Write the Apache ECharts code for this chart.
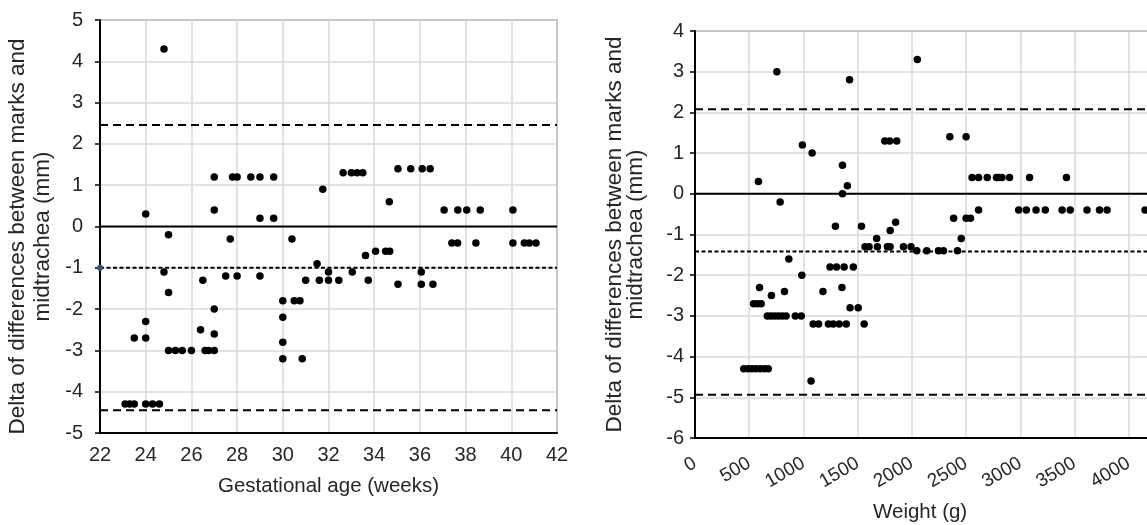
<!DOCTYPE html>
<html>
<head>
<meta charset="utf-8">
<script src="https://cdn.jsdelivr.net/npm/echarts@6/dist/echarts.min.js"></script>
<style>
html,body{margin:0;padding:0;background:#fff;}
#c{width:1147px;height:525px;}
</style>
</head>
<body>
<div id="c"></div>
<script>
// ---- Left panel: gestational age (weeks) vs delta (mm)
const gaWeeks = [23.1,23.3,23.5,24.0,24.3,24.6, 23.5,24.0,24.0,24.0, 24.8,24.8,25.0,25.0, 25.0,25.3,25.6,26.0,
  26.4,26.5,26.6,26.75,27.0,27.0,27.0,27.0,27.0, 27.5,27.7,27.8,28.0,28.0, 28.6,29.0,29.0,29.0,29.6,29.6,
  30.0,30.0,30.0,30.0,30.4,30.5,30.75,30.85, 31.0,31.5,31.6,31.75,32.0,32.0,32.45,
  32.64,33.0,33.25,33.5,33.04,33.62,33.74, 34.06,34.5,34.68,34.66,
  35.04,35.6,36.1,36.45,35.04,36.06,36.06,36.57,
  37.06,37.4,37.65,37.66,38.05,38.45,38.64,40.07,40.07,40.57,40.79,41.08];
const gaDelta = [-4.3,-4.3,-4.3,-4.3,-4.3,-4.3, -2.7,-2.7,-2.3,0.3, 4.3,-1.1,-0.2,-1.6, -3.0,-3.0,-3.0,-3.0,
  -2.5,-1.3,-3.0,-3.0,-3.0,-2.6,-2.0,0.4,1.2, -1.2,-0.3,1.2,1.2,-1.2, 1.2,1.2,0.2,-1.2,1.2,0.2,
  -1.8,-2.2,-2.8,-3.2,-0.3,-1.8,-1.8,-3.2, -1.3,-0.9,-1.3,0.9,-1.1,-1.3,-1.3,
  1.3,1.3,1.3,1.3,-1.1,-0.7,-1.3, -0.6,-0.6,-0.6,0.6,
  1.4,1.4,1.4,1.4,-1.4,-1.1,-1.4,-1.4,
  0.4,-0.4,-0.4,0.4,0.4,-0.4,0.4,0.4,-0.4,-0.4,-0.4,-0.4];
const gaLimits = {upper: 2.46, mean: -1.0, lower: -4.45};
const gaRange = [22, 42];

// ---- Right panel: weight (g) vs delta (mm)
const wGrams = [755,1425,2050,585,785,990,1080,1360,1405,1360,1750,1795,1860,
  1295,1535,1675,1800,1850,
  1568,1605,1682,1774,1799,1922,1992,
  2045,2137,2245,2291,2420,
  865,985,595,540,575,610,705,825,
  667,700,735,770,805,840,925,980,
  450,490,525,560,600,640,675,1070,
  1245,1305,1375,1460,1180,1355,1430,1505,
  1090,1140,1230,1275,1330,1395,1560,
  2350,2500,
  2555,2615,2695,2780,2800,2830,2900,3085,3425,
  2385,2500,2540,2455,
  2615,2985,3055,3145,3230,3385,3460,3615,3730,3800,4150];
const wDelta = [3.0,2.8,3.3,0.3,-0.2,1.2,1.0,0.7,0.2,0.0,1.3,1.3,1.3,
  -0.8,-0.8,-1.1,-0.9,-0.7,
  -1.3,-1.3,-1.3,-1.3,-1.3,-1.3,-1.3,
  -1.4,-1.4,-1.4,-1.4,-1.4,
  -1.6,-2.0,-2.3,-2.7,-2.7,-2.7,-2.5,-2.4,
  -3.0,-3.0,-3.0,-3.0,-3.0,-3.0,-3.0,-3.0,
  -4.3,-4.3,-4.3,-4.3,-4.3,-4.3,-4.3,-4.6,
  -1.8,-1.8,-1.8,-1.8,-2.4,-2.3,-2.8,-2.8,
  -3.2,-3.2,-3.2,-3.2,-3.2,-3.2,-3.2,
  1.4,1.4,
  0.4,0.4,0.4,0.4,0.4,0.4,0.4,0.4,0.4,
  -0.6,-0.6,-0.6,-1.1,
  -0.4,-0.4,-0.4,-0.4,-0.4,-0.4,-0.4,-0.4,-0.4,-0.4,-0.4];
const wLimits = {upper: 2.08, mean: -1.42, lower: -4.94};
const wRange = [0, 4500];

const yTitle = 'Delta of differences between marks and\nmidtrachea (mm)';
const FONT = 'Liberation Sans, Arial, sans-serif';
const txt = '#262626';

const pair = (xs, ys) => xs.map((x, i) => [x, ys[i]]);
const hline = (range, y) => [[range[0], y], [range[1], y]];

function lineSeries(idx, data, type, width, color) {
  return {type: 'line', xAxisIndex: idx, yAxisIndex: idx, data: data, symbol: 'none',
    silent: true, z: 3, lineStyle: {color: color || '#000', width: width, type: type}};
}
function dotSeries(idx, data) {
  return {type: 'scatter', xAxisIndex: idx, yAxisIndex: idx, data: data, symbol: 'circle',
    symbolSize: 7.5, itemStyle: {color: '#000', opacity: 1}, z: 5};
}

const axisCommon = {
  axisLine: {show: true, onZero: false, lineStyle: {color: '#000', width: 2}},
  axisTick: {show: true, inside: false, length: 5, lineStyle: {color: '#000', width: 1.5}},
  splitLine: {show: true, lineStyle: {color: '#d9d9d9', width: 1.5}},
  axisLabel: {fontFamily: FONT, fontSize: 20, color: txt},
  nameTextStyle: {fontFamily: FONT, fontSize: 20, color: txt}
};

const chart = echarts.init(document.getElementById('c'), null, {renderer: 'canvas'});
chart.setOption({
  backgroundColor: '#fff',
  animation: false,
  grid: [
    {left: 100, top: 20, width: 457, height: 413, show: true, borderColor: '#6f6f6f', borderWidth: 1.5,
      backgroundColor: 'transparent', containLabel: false, outerBoundsMode: 'none'},
    {left: 695, top: 31, width: 488, height: 407, show: true, borderColor: '#6f6f6f', borderWidth: 1.5,
      backgroundColor: 'transparent', containLabel: false, outerBoundsMode: 'none'}
  ],
  xAxis: [
    Object.assign({}, axisCommon, {gridIndex: 0, type: 'value', min: gaRange[0], max: gaRange[1], interval: 2,
      axisTick: {show: false},
      axisLabel: Object.assign({}, axisCommon.axisLabel, {margin: 12}),
      name: 'Gestational age (weeks)', nameLocation: 'middle', nameGap: 43,
      nameTextStyle: Object.assign({}, axisCommon.nameTextStyle, {fontSize: 20.5})}),
    Object.assign({}, axisCommon, {gridIndex: 1, type: 'value', min: wRange[0], max: wRange[1], interval: 500,
      axisTick: {show: false},
      axisLabel: Object.assign({}, axisCommon.axisLabel, {rotate: 30, margin: 24, fontSize: 19,
        formatter: function (v) { return String(v); }})})
  ],
  yAxis: [
    Object.assign({}, axisCommon, {gridIndex: 0, type: 'value', min: -5, max: 5, interval: 1,
      axisLabel: Object.assign({}, axisCommon.axisLabel, {margin: 17}),
      name: yTitle, nameLocation: 'middle', nameGap: 44.5, nameRotate: 90,
      nameTextStyle: Object.assign({}, axisCommon.nameTextStyle, {fontSize: 22.5, lineHeight: 25, padding: [0, 20, 0, 0]})}),
    Object.assign({}, axisCommon, {gridIndex: 1, type: 'value', min: -6, max: 4, interval: 1,
      axisLabel: Object.assign({}, axisCommon.axisLabel, {margin: 11}),
      name: yTitle, nameLocation: 'middle', nameGap: 48.5, nameRotate: 90,
      nameTextStyle: Object.assign({}, axisCommon.nameTextStyle, {fontSize: 22.5, lineHeight: 21})})
  ],
  graphic: [
    {type: 'text', left: 923 - 50, top: 502, style: {text: 'Weight (g)', font: '20.5px ' + FONT, fill: txt, width: 100, align: 'center'}}
  ],
  series: [
    lineSeries(0, hline(gaRange, 0), 'solid', 2),
    lineSeries(0, hline(gaRange, gaLimits.upper), [8, 5], 2),
    lineSeries(0, hline(gaRange, gaLimits.lower), [8, 5], 2),
    lineSeries(0, hline(gaRange, gaLimits.mean), [4, 2.5], 2),
    {type: 'scatter', xAxisIndex: 0, yAxisIndex: 0, data: [[gaRange[0], gaLimits.mean]], symbolSize: 6,
      itemStyle: {color: '#2f5597', opacity: 1}, z: 6, silent: true},
    dotSeries(0, pair(gaWeeks, gaDelta)),
    lineSeries(1, hline(wRange, 0), 'solid', 2),
    lineSeries(1, hline(wRange, wLimits.upper), [8, 5], 2),
    lineSeries(1, hline(wRange, wLimits.lower), [8, 5], 2),
    lineSeries(1, hline(wRange, wLimits.mean), [4, 2.5], 2),
    dotSeries(1, pair(wGrams, wDelta))
  ]
});
</script>
</body>
</html>
